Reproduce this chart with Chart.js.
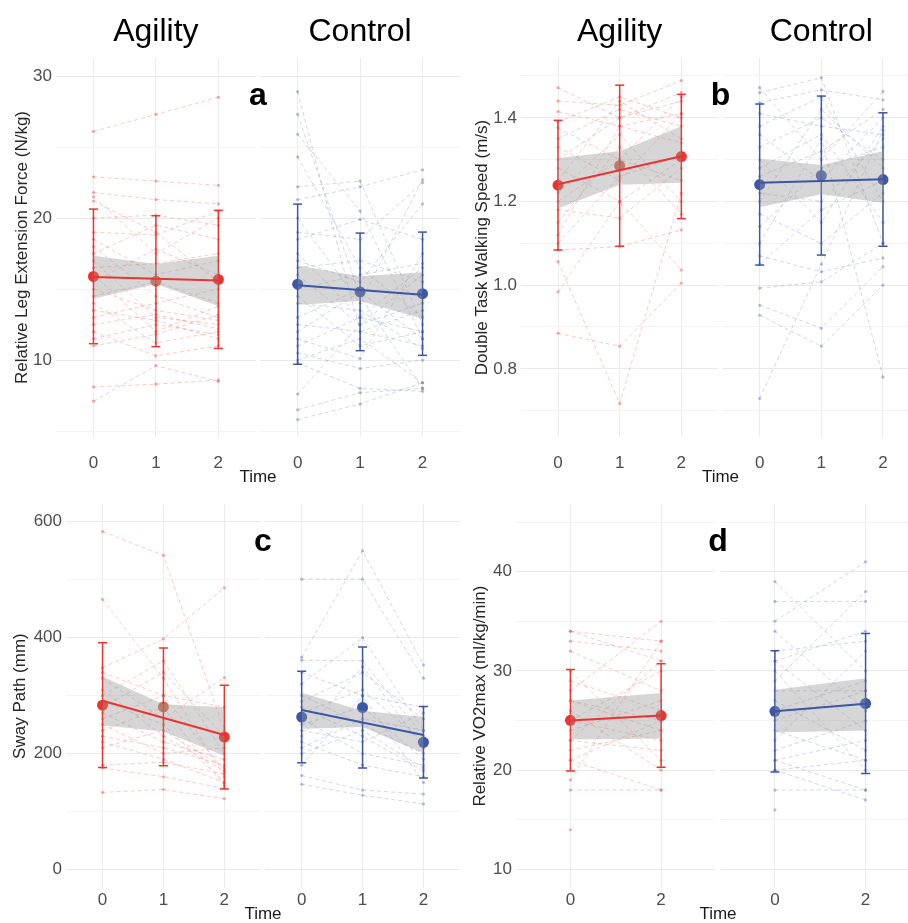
<!DOCTYPE html>
<html>
<head>
<meta charset="utf-8">
<script src="https://cdn.jsdelivr.net/npm/chart.js@4.4.1/dist/chart.umd.min.js"></script>
<style>
html, body { margin: 0; padding: 0; width: 908px; height: 923px; overflow: hidden; background: #fff; }
canvas { position: absolute; }
</style>
</head>
<body>
<canvas id="pa" width="466" height="490" style="left:0;top:0"></canvas>
<canvas id="pb" width="460" height="490" style="left:466px;top:0"></canvas>
<canvas id="pc" width="466" height="440" style="left:0;top:490px"></canvas>
<canvas id="pd" width="460" height="440" style="left:466px;top:490px"></canvas>
<script>
var groups = ['Agility', 'Control'];
var timesABC = [0, 1, 2];
var timesD = [0, 2];

// a: relative leg extension force, one row per subject (time 0, 1, 2)
var aAgility = [
  [26.1,27.3,28.5],[22.9,22.6,22.3],[21.8,21.3,21.0],[21.5,17.5,20.0],[21.2,19.0,15.5],
  [20.0,20.2,19.5],[19.0,18.8,20.5],[18.5,16.0,17.0],[18.0,14.5,13.0],[17.5,19.5,18.5],
  [17.0,13.0,12.5],[16.5,16.8,17.5],[16.0,12.0,13.8],[15.5,17.8,16.0],[15.0,13.5,12.8],
  [14.5,15.5,14.0],[14.0,11.2,12.0],[13.5,12.8,11.5],[13.0,14.0,15.0],[12.5,13.2,12.2],
  [12.0,10.3,11.0],[11.5,12.5,11.8],[11.0,11.8,13.2],[8.1,8.3,8.6],[7.1,9.6,8.5]
];
var aControl = [
  [28.9,12.0,11.0],[27.3,14.5,8.0],[25.9,20.5,11.5],[24.3,16.5,13.0],[22.2,22.6,12.5],
  [21.3,22.2,23.4],[20.0,14.0,22.7],[19.0,18.5,22.5],[18.5,19.9,18.5],[17.5,13.0,16.5],
  [17.0,15.5,21.0],[16.5,17.0,15.5],[16.0,12.5,14.0],[15.0,16.0,16.8],[14.5,11.0,12.0],
  [14.0,13.5,10.8],[13.0,15.0,14.5],[12.5,12.0,13.5],[12.0,14.8,11.5],[11.5,10.1,17.5],
  [11.0,13.0,12.0],[10.5,9.4,10.0],[10.0,11.5,8.4],[9.8,8.0,7.8],[7.6,12.5,16.0],
  [6.5,7.7,8.0],[5.8,6.9,8.4]
];
var aMean = [[15.89,15.55,15.68],[15.34,14.8,14.67]];
var aSd = [[4.74,4.61,4.86],[5.64,4.14,4.34]];
var aFit = [[15.85,15.6],[15.27,14.6]];
var aBandLo = [[14.31,15.36,13.8],[13.9,14.15,12.9]];
var aBandHi = [[17.35,16.77,17.35],[16.65,15.9,16.18]];

// b: double task walking speed
var bAgility = [
  [1.472,1.40,1.46],[1.44,1.43,1.489],[1.415,1.38,1.41],[1.39,1.45,1.40],[1.376,1.30,1.45],
  [1.35,1.42,1.38],[1.33,1.25,1.41],[1.30,1.40,1.44],[1.28,1.20,1.30],[1.25,1.44,1.35],
  [1.22,1.36,1.20],[1.20,1.30,1.25],[1.18,1.16,1.28],[1.15,1.33,1.17],[1.12,1.38,1.34],
  [1.10,1.26,1.31],[1.084,1.092,1.132],[1.056,0.717,1.22],[0.984,1.20,1.036],[0.885,0.854,1.005]
];
var bControl = [
  [1.472,1.30,1.463],[1.46,1.496,1.10],[1.436,1.467,1.443],[1.41,1.38,1.36],[1.38,1.45,1.20],
  [1.36,1.25,1.40],[1.33,1.40,1.30],[1.30,1.15,1.38],[1.28,1.36,1.15],[1.26,1.32,1.42],
  [1.22,1.20,1.35],[1.20,1.42,1.28],[1.17,1.10,1.22],[1.14,1.28,1.33],[1.10,1.35,0.78],
  [1.07,1.032,1.065],[1.05,1.18,1.25],[0.993,1.008,1.10],[0.952,0.897,1.044],[0.928,0.854,1.0],
  [0.729,1.05,1.37]
];
var bMean = [[1.239,1.2855,1.3075],[1.2405,1.262,1.2525]];
var bSd = [[0.155,0.1925,0.1485],[0.1925,0.19,0.1595]];
var bFit = [[1.241,1.308],[1.245,1.253]];
var bBandLo = [[1.183,1.24,1.245],[1.186,1.217,1.197]];
var bBandHi = [[1.304,1.32,1.38],[1.302,1.287,1.32]];

// c: sway path
var cAgility = [
  [583,542,240],[466,330,160],[348,398,486],[340,300,280],[330,260,331],[310,230,170],
  [300,360,200],[290,250,150],[280,340,230],[270,220,190],[260,300,170],[250,200,210],
  [240,280,145],[230,210,180],[220,190,150],[210,240,175],[180,185,165],[175,160,140],[133,138,122]
];
var cControl = [
  [501,501,330],[366,550,353],[361,360,230],[340,300,280],[320,400,240],[300,250,200],
  [290,340,260],[280,230,170],[270,310,220],[260,200,180],[250,280,190],[240,220,270],
  [230,350,210],[220,180,160],[210,260,240],[200,240,175],[180,300,150],[162,137,130],[147,128,113]
];
var cMean = [[283.5,280.5,228.5],[263,279.5,219.5]];
var cSd = [[107.5,101.5,89.5],[79,104.5,61.5]];
var cFit = [[291,232],[275,232]];
var cBandLo = [[249,238,196],[243,246,201]];
var cBandHi = [[333,285,280],[305,274,263]];

// d: relative VO2max (time 0 and 2 only)
var dAgility = [
  [34,33],[34,31],[33,32],[32,28],[30,21],[29,26],[28,35],[27,25],[27,24],[26,20],
  [25,30],[25,23],[24,27],[23,22],[23,31],[22,24],[21,25],[21,18],[19,33],[18,18],[14,null]
];
var dControl = [
  [39,30],[37,37],[35,41],[34,26],[32,33],[31,24],[31,34],[30,20],[29,38],[28,28],
  [27,22],[26,29],[25,28],[24,21],[23,32],[22,25],[21,23],[21,18],[20,21],[20,17],[18,18],[16,null]
];
var dMean = [[25.03,25.5],[25.93,26.72]];
var dSd = [[5.11,5.215],[6.11,7.06]];
var dFit = [[25.0,25.5],[25.93,26.7]];
var dBandLo = [[23.1,23.2],[23.8,24.0]];
var dBandHi = [[27.03,27.78],[28.1,29.26]];

var FONT = "'Liberation Sans', Arial, sans-serif";
var strong = ['#e8352f', '#3d56a6'];
var midPoint = ['#cf6a50', '#4a62aa'];
var faintLine = ['rgba(236,80,80,0.30)', 'rgba(95,105,175,0.28)'];
var faintPt = ['rgba(236,80,80,0.45)', 'rgba(95,105,175,0.42)'];

var decor = {
  id: 'decor',
  beforeDatasetsDraw: function (chart, args, o) {
    var x = chart.scales.x, ca = chart.chartArea, ctx = chart.ctx;
    var l = x.getPixelForValue(o.n - 1 + 0.6), r = x.getPixelForValue(o.shift - 0.6);
    ctx.save();
    ctx.fillStyle = '#fff';
    ctx.fillRect(l, ca.top - 2, r - l, ca.bottom - ca.top + 4);
    ctx.restore();
  },
  afterDraw: function (chart, args, o) {
    var x = chart.scales.x, ca = chart.chartArea, ctx = chart.ctx;
    ctx.save();
    ctx.fillStyle = '#000';
    ctx.textAlign = 'center';
    ctx.textBaseline = 'middle';
    if (o.strips) {
      ctx.font = '32px ' + FONT;
      groups.forEach(function (g, i) {
        ctx.fillText(g, x.getPixelForValue(i * o.shift + (o.n - 1) / 2), ca.top - 26);
      });
    }
    ctx.font = 'bold 32px ' + FONT;
    ctx.fillText(o.letter, x.getPixelForValue((o.n - 1 + 0.6 + o.shift - 0.6) / 2), ca.top + 38);
    ctx.restore();
  }
};

function buildPanel(id, p) {
  var n = p.times.length;
  var shift = (n - 1) + 1.2 + p.gap;
  function pos(g, i) { return g * shift + i; }
  var datasets = [];
  [p.agility, p.control].forEach(function (subjects, g) {
    subjects.forEach(function (s) {
      datasets.push({
        data: s.map(function (v, i) { return { x: pos(g, i), y: v }; }),
        borderColor: faintLine[g], borderWidth: 1, borderDash: [4, 3],
        pointRadius: 1.6, pointBackgroundColor: faintPt[g], pointBorderWidth: 0,
        spanGaps: false, order: 4
      });
    });
  });
  for (var g = 0; g < 2; g++) {
    // error bars
    p.mean[g].forEach(function (m, i) {
      datasets.push({
        data: [{ x: pos(g, i), y: m - p.sd[g][i] }, { x: pos(g, i), y: m + p.sd[g][i] }],
        borderColor: strong[g], borderWidth: 1.5,
        pointStyle: 'line', pointRadius: 4.5, pointBorderColor: strong[g], pointBorderWidth: 1.5,
        order: 3
      });
    });
    // group means
    datasets.push({
      data: p.mean[g].map(function (m, i) { return { x: pos(g, i), y: m }; }),
      showLine: false, pointRadius: 5.5, pointBorderWidth: 0,
      pointBackgroundColor: p.mean[g].map(function (m, i) { return (p.mid[g] && i === 1) ? midPoint[g] : strong[g]; }),
      order: 3
    });
    // confidence band
    datasets.push({
      data: p.bandLo[g].map(function (v, i) { return { x: pos(g, i), y: v }; }),
      borderWidth: 0, pointRadius: 0, order: 2
    });
    datasets.push({
      data: p.bandHi[g].map(function (v, i) { return { x: pos(g, i), y: v }; }),
      borderWidth: 0, pointRadius: 0, fill: '-1', backgroundColor: 'rgba(153,153,153,0.4)', order: 2
    });
    // linear fit
    datasets.push({
      data: [{ x: pos(g, 0), y: p.fit[g][0] }, { x: pos(g, n - 1), y: p.fit[g][1] }],
      borderColor: strong[g], borderWidth: 2, pointRadius: 0, order: 1
    });
  }
  var xTicks = [];
  for (var k = 0; k < 2 * n; k++) xTicks.push(pos(Math.floor(k / n), k % n));

  new Chart(document.getElementById(id), {
    type: 'line',
    data: { datasets: datasets },
    plugins: [decor],
    options: {
      responsive: false,
      animation: false,
      layout: { padding: { top: p.top, right: 2, bottom: 0, left: 0 } },
      plugins: {
        legend: { display: false },
        tooltip: { enabled: false },
        decor: { n: n, shift: shift, letter: p.letter, strips: p.strips }
      },
      scales: {
        x: {
          type: 'linear',
          min: -0.6, max: shift + n - 1 + 0.6,
          afterBuildTicks: function (s) { s.ticks = xTicks.map(function (v) { return { value: v }; }); },
          afterFit: function (s) { s.height = p.xh; },
          ticks: {
            autoSkip: false, maxRotation: 0, padding: p.xpad, color: '#4d4d4d',
            font: { family: FONT, size: 17 },
            callback: function (v, i) { return String(p.times[i % n]); }
          },
          grid: { color: '#ebebeb', drawTicks: false },
          border: { display: false },
          title: { display: true, text: 'Time', color: '#1a1a1a', font: { family: FONT, size: 17 }, padding: { top: 0, bottom: p.tpad } }
        },
        y: {
          min: p.ymin, max: p.ymax,
          afterBuildTicks: function (s) { s.ticks = p.yMajor.concat(p.yMinor).map(function (v) { return { value: v }; }); },
          afterFit: function (s) { s.width = p.yw; },
          ticks: {
            autoSkip: false, padding: 4, color: '#4d4d4d',
            font: { family: FONT, size: 17 },
            callback: function (v) { return p.yMajor.indexOf(v) >= 0 ? v.toFixed(p.dec) : ''; }
          },
          grid: {
            drawTicks: false,
            color: function (c) { return p.yMajor.indexOf(c.tick.value) >= 0 ? '#e9e9e9' : '#f3f3f3'; }
          },
          border: { display: false },
          title: { display: true, text: p.ytitle, color: '#262626', font: { family: FONT, size: 17 }, padding: { top: p.ytpad, bottom: 0 } }
        }
      }
    }
  });
}

buildPanel('pa', {
  times: timesABC, gap: 0.07, agility: aAgility, control: aControl,
  mean: aMean, sd: aSd, fit: aFit, bandLo: aBandLo, bandHi: aBandHi, mid: [true, false],
  ymin: 4.58, ymax: 31.27, yMajor: [10, 20, 30], yMinor: [5, 15, 25], dec: 0,
  ytitle: 'Relative Leg Extension Force (N/kg)', letter: 'a', strips: true,
  top: 58, xh: 53, xpad: 16, tpad: 2, yw: 56, ytpad: 12
});
buildPanel('pb', {
  times: timesABC, gap: 0.07, agility: bAgility, control: bControl,
  mean: bMean, sd: bSd, fit: bFit, bandLo: bBandLo, bandHi: bBandHi, mid: [true, true],
  ymin: 0.637, ymax: 1.543, yMajor: [0.8, 1.0, 1.2, 1.4], yMinor: [0.7, 0.9, 1.1, 1.3, 1.5], dec: 1,
  ytitle: 'Double Task Walking Speed (m/s)', letter: 'b', strips: true,
  top: 58, xh: 53, xpad: 16, tpad: 2, yw: 55, ytpad: 6
});
buildPanel('pc', {
  times: timesABC, gap: 0.07, agility: cAgility, control: cControl,
  mean: cMean, sd: cSd, fit: cFit, bandLo: cBandLo, bandHi: cBandHi, mid: [true, false],
  ymin: -32, ymax: 630.3, yMajor: [0, 200, 400, 600], yMinor: [100, 300, 500], dec: 0,
  ytitle: 'Sway Path (mm)', letter: 'c', strips: false,
  top: 5, xh: 42, xpad: 2, tpad: 5, yw: 66, ytpad: 10
});
buildPanel('pd', {
  times: timesD, gap: 0.055, agility: dAgility, control: dControl,
  mean: dMean, sd: dSd, fit: dFit, bandLo: dBandLo, bandHi: dBandHi, mid: [false, false],
  ymin: 8.13, ymax: 46.8, yMajor: [10, 20, 30, 40], yMinor: [15, 25, 35, 45], dec: 0,
  ytitle: 'Relative VO2max (ml/kg/min)', letter: 'd', strips: false,
  top: 5, xh: 42, xpad: 2, tpad: 5, yw: 50, ytpad: 4
});
</script>
</body>
</html>
